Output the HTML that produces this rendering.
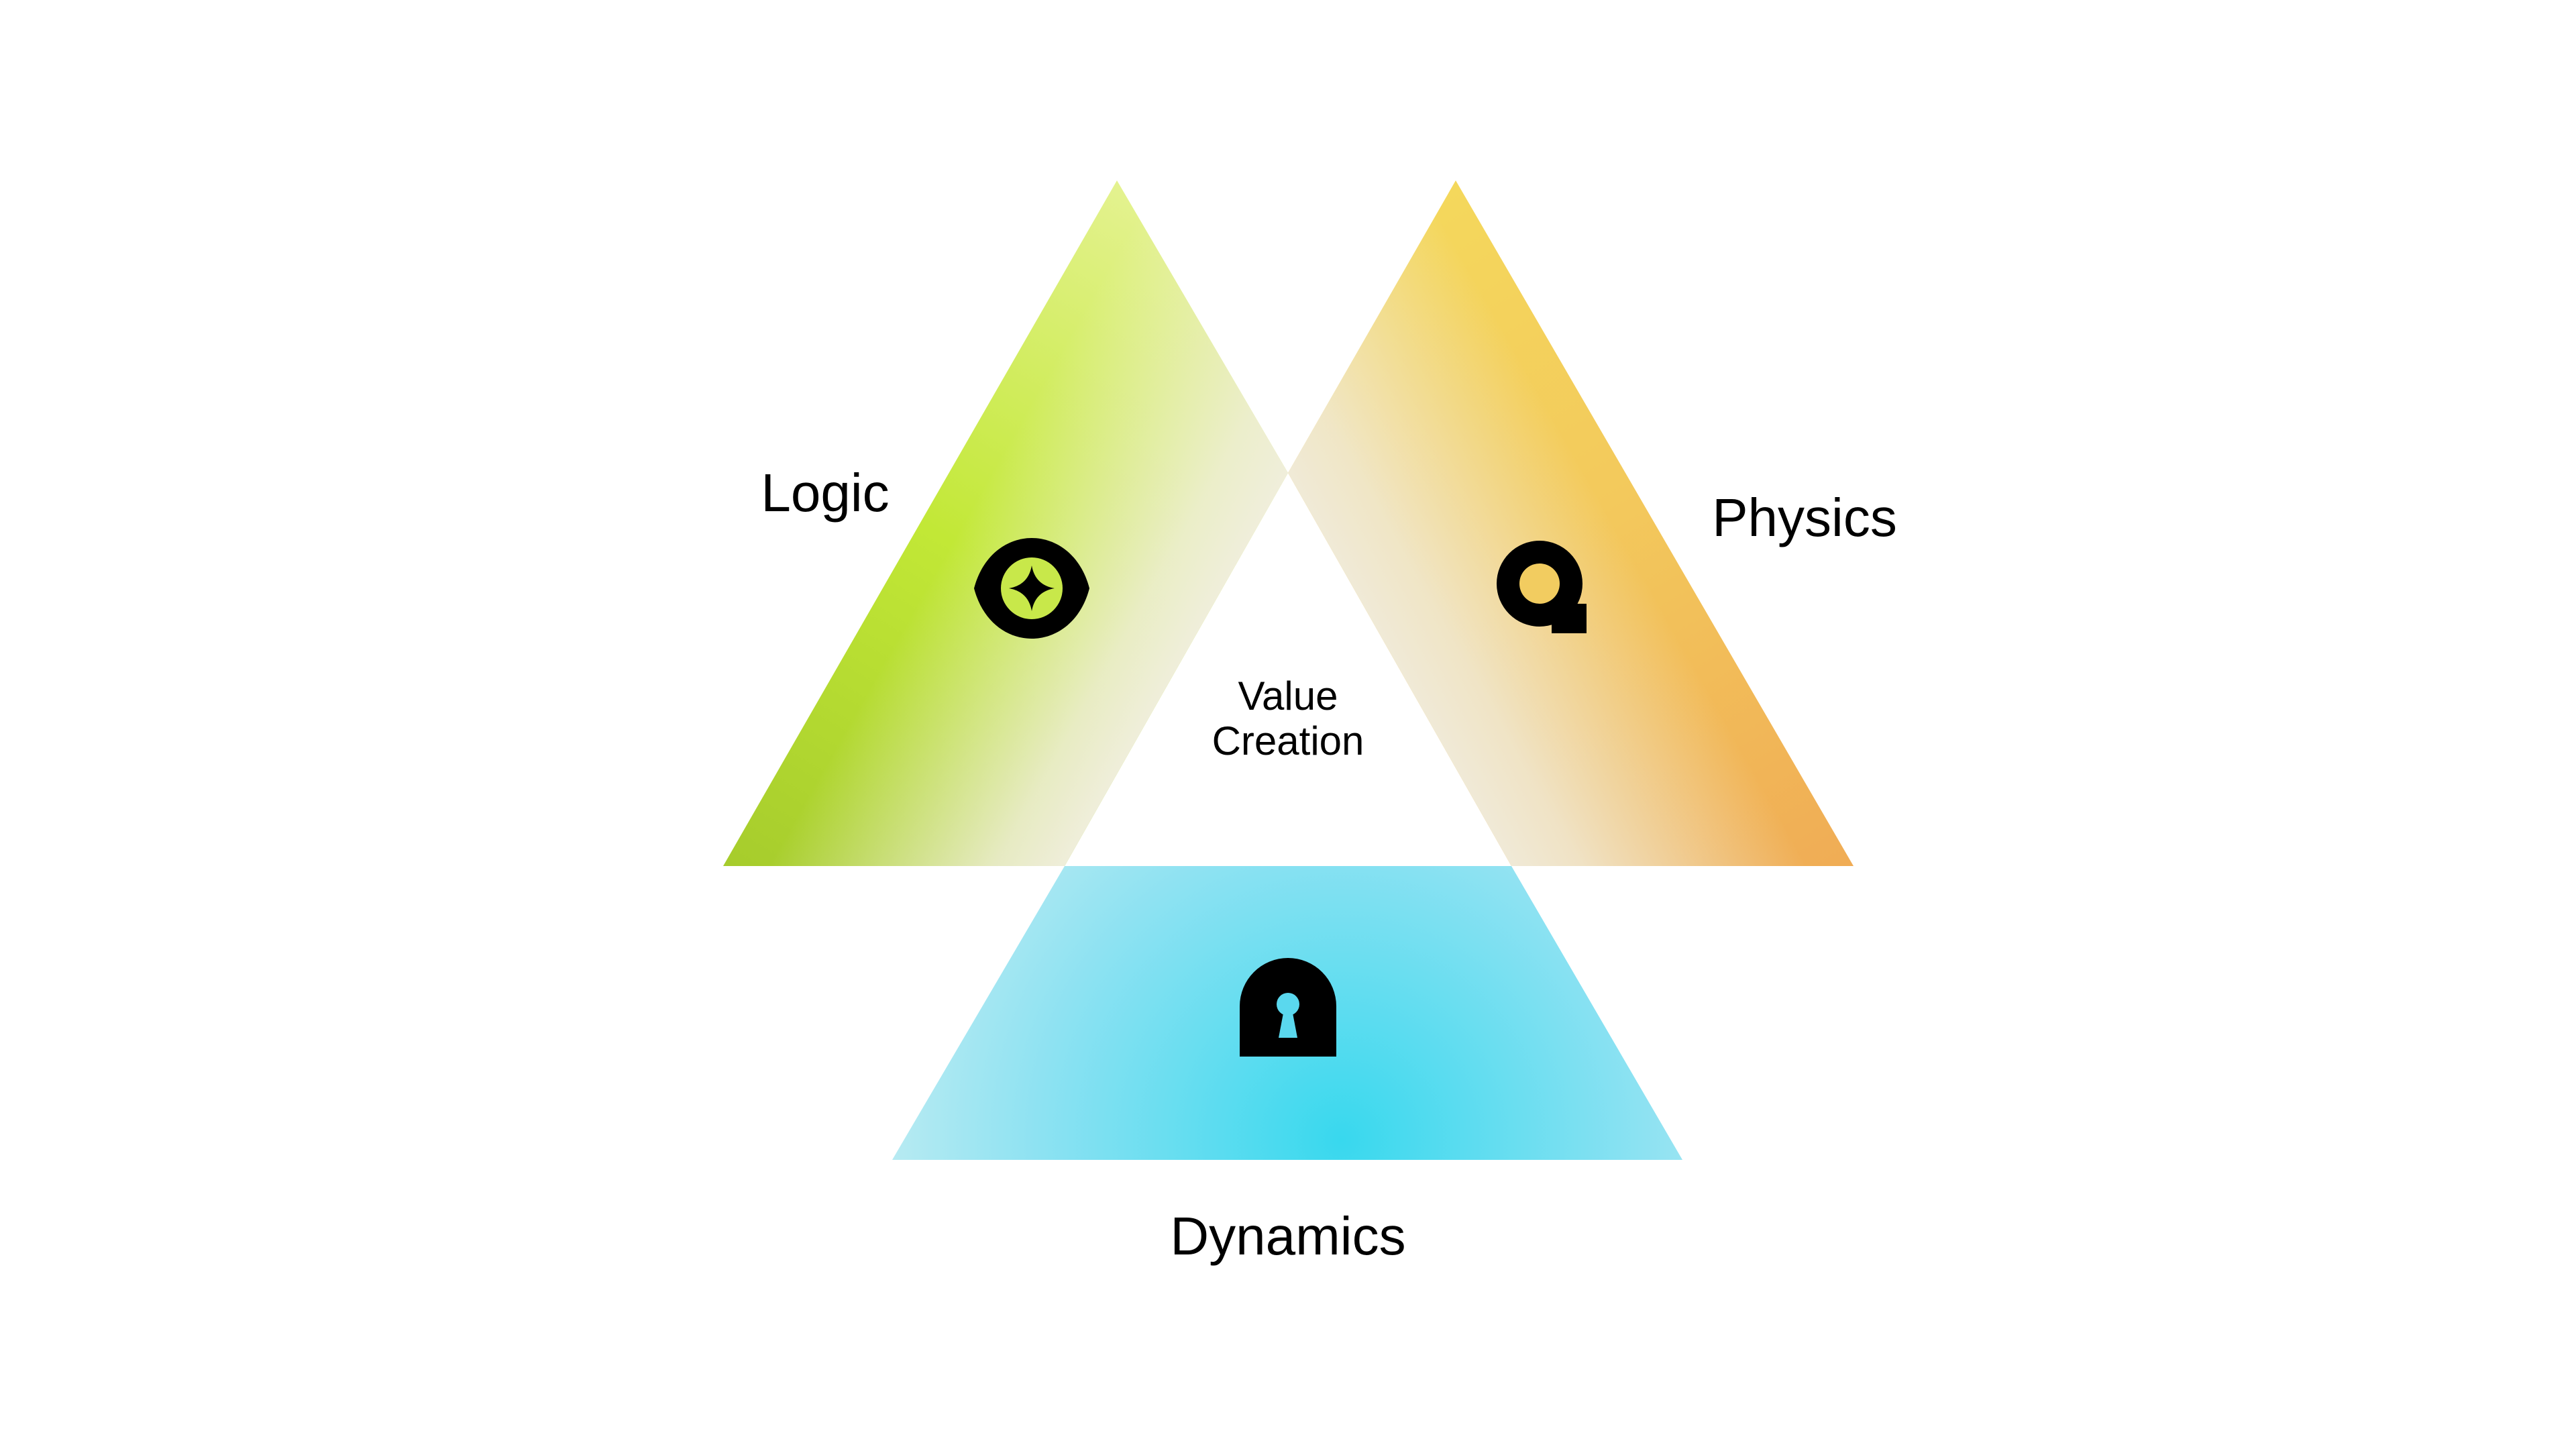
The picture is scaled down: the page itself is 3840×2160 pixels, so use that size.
<!DOCTYPE html>
<html><head><meta charset="utf-8"><style>
html,body{margin:0;padding:0;background:#fff;}
svg{display:block}
text{font-family:"Liberation Sans",sans-serif;fill:#000}
</style></head><body>
<svg width="3840" height="2160" viewBox="0 0 3840 2160" xmlns="http://www.w3.org/2000/svg">
<defs>
<linearGradient id="gl" x1="1665" y1="269" x2="1078" y2="1291" gradientUnits="userSpaceOnUse">
<stop offset="0" stop-color="#e4f290"/>
<stop offset="0.5" stop-color="#c2e836"/>
<stop offset="1" stop-color="#a6cc2c"/>
</linearGradient>
<linearGradient id="gl2" x1="1760" y1="1000" x2="1420" y2="807" gradientUnits="userSpaceOnUse">
<stop offset="0" stop-color="#f0eedc" stop-opacity="1"/>
<stop offset="0.25" stop-color="#f0eedc" stop-opacity="0.85"/>
<stop offset="1" stop-color="#f0eedc" stop-opacity="0"/>
</linearGradient>
<linearGradient id="gr" x1="2170" y1="269" x2="2763" y2="1291" gradientUnits="userSpaceOnUse">
<stop offset="0" stop-color="#f4d85c"/>
<stop offset="0.45" stop-color="#f3c95c"/>
<stop offset="1" stop-color="#f0ac55"/>
</linearGradient>
<linearGradient id="gr2" x1="2080" y1="1000" x2="2420" y2="807" gradientUnits="userSpaceOnUse">
<stop offset="0" stop-color="#f0ead8" stop-opacity="1"/>
<stop offset="0.25" stop-color="#f0ead8" stop-opacity="0.85"/>
<stop offset="1" stop-color="#f0ead8" stop-opacity="0"/>
</linearGradient>
<radialGradient id="gb" cx="2000" cy="1700" r="760" gradientUnits="userSpaceOnUse">
<stop offset="0" stop-color="#38d8ee"/>
<stop offset="0.6" stop-color="#8ee2f2"/>
<stop offset="1" stop-color="#c8eef2"/>
</radialGradient>
</defs>
<polygon points="1665,269 1920,705 1587,1291 1078,1291" fill="url(#gl)"/>
<polygon points="1665,269 1920,705 1587,1291 1078,1291" fill="url(#gl2)"/>
<polygon points="2170,269 2763,1291 2253,1291 1920,705" fill="url(#gr)"/>
<polygon points="2170,269 2763,1291 2253,1291 1920,705" fill="url(#gr2)"/>
<polygon points="1587,1291 2253,1291 2508,1729 1330,1729" fill="url(#gb)"/>

<!-- eye icon -->
<g transform="translate(1538,877)">
<path d="M-86,0 C-60,-100 60,-100 86,0 C60,100 -60,100 -86,0 Z" fill="#000"/>
<circle cx="0" cy="0" r="46" fill="#c8e84a"/>
<path d="M0,-34 Q5,-5 34,0 Q5,5 0,34 Q-5,5 -34,0 Q-5,-5 0,-34Z" fill="#000"/>
</g>
<!-- magnifier -->
<g transform="translate(2295,870)">
<circle cx="0" cy="0" r="64" fill="#000"/>
<circle cx="0" cy="0" r="30" fill="#f2cc60"/>
<rect x="18" y="30" width="52" height="44" fill="#000"/>
</g>
<!-- lock -->
<g transform="translate(1920,1505)">
<path d="M-72,70 L-72,-5 A72,72 0 0 1 72,-5 L72,70 Z" fill="#000"/>
<circle cx="0" cy="-8" r="17" fill="#5ad8ee"/>
<polygon points="-6,0 6,0 14,42 -14,42" fill="#5ad8ee"/>
</g>

<text x="1230" y="762" font-size="80" text-anchor="middle">Logic</text>
<text x="2690" y="799" font-size="80" text-anchor="middle">Physics</text>
<text x="1920" y="1870" font-size="80" text-anchor="middle">Dynamics</text>
<text x="1920" y="1058" font-size="60" text-anchor="middle">Value</text>
<text x="1920" y="1125" font-size="60" text-anchor="middle">Creation</text>
</svg>
</body></html>
